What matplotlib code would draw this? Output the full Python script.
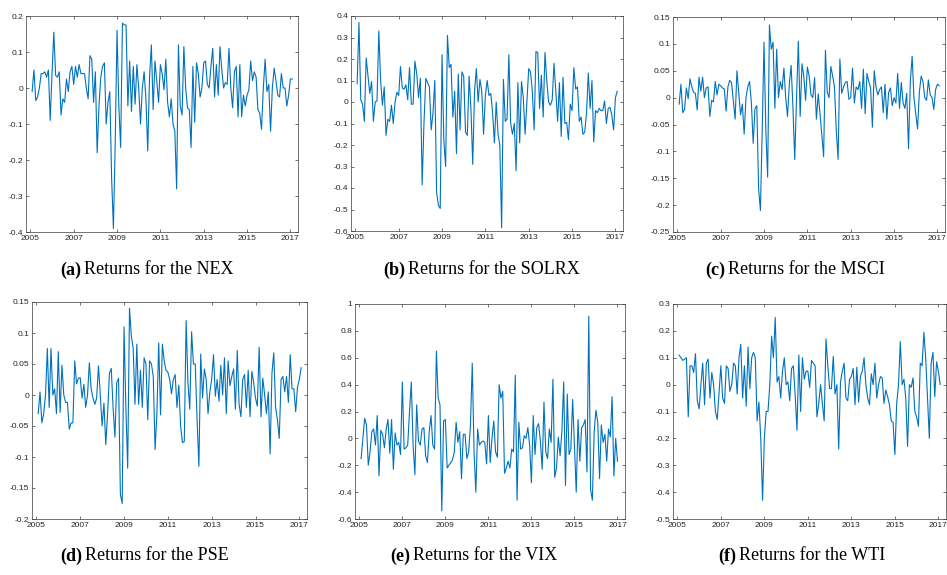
import matplotlib
matplotlib.use("Agg")
import matplotlib.pyplot as plt
import numpy as np
import pandas as pd
from matplotlib.ticker import FuncFormatter, MultipleLocator

plt.rcParams["axes.unicode_minus"] = False

# Monthly returns, Feb 2005 - Feb 2017 (one row per calendar year)
nex = [
    -0.01, 0.05, -0.035, -0.025, 0.0, 0.04, 0.04, 0.045, 0.03, 0.05, -0.09,
    0.04, 0.155, 0.035, 0.03, 0.045, -0.075, -0.03, -0.04, 0.025, -0.01, 0.045, 0.06,
    0.01, 0.06, 0.03, 0.065, 0.04, 0.04, 0.04, 0.0, -0.03, 0.09, 0.08, -0.04,
    0.045, -0.18, -0.05, 0.03, 0.06, 0.07, -0.1, -0.04, -0.01, -0.25, -0.39, -0.15,
    0.16, -0.05, -0.165, 0.18, 0.175, 0.175, -0.05, 0.075, -0.065, 0.06, -0.045, 0.065,
    0.0, -0.1, 0.0, 0.045, -0.03, -0.175, 0.03, 0.12, -0.06, 0.075, 0.02, -0.04,
    0.065, 0.04, -0.005, 0.08, -0.04, -0.08, -0.03, -0.1, -0.12, -0.28, 0.12, -0.05,
    -0.075, 0.115, 0.0, -0.055, -0.06, -0.165, 0.06, -0.095, 0.07, 0.04, -0.025, 0.0,
    0.07, 0.075, 0.01, 0.0, 0.06, 0.11, -0.025, 0.065, -0.02, 0.115, 0.05, 0.0,
    0.015, 0.01, 0.11, 0.0, -0.055, 0.045, 0.06, -0.08, 0.065, -0.08, -0.02, -0.05,
    -0.02, -0.005, 0.075, 0.02, 0.045, 0.03, -0.06, -0.07, -0.115, 0.0, 0.08, -0.01,
    0.01, -0.12, 0.0, 0.055, 0.02, -0.02, -0.025, 0.04, 0.0, 0.0, -0.05, -0.02,
    0.025, 0.025,
]

solrx = [
    0.085, 0.37, 0.01, -0.01, -0.09, 0.205, 0.12, 0.04, 0.095, -0.09, 0.0,
    0.005, 0.33, 0.1, -0.015, 0.07, -0.155, -0.08, -0.09, -0.015, -0.1, 0.0, 0.045,
    0.03, 0.165, 0.065, 0.06, 0.08, 0.01, 0.16, -0.01, -0.01, 0.19, 0.13, 0.02,
    0.11, -0.385, -0.1, 0.11, 0.09, 0.07, -0.13, -0.05, 0.1, -0.42, -0.48, -0.495,
    0.22, -0.18, -0.3, 0.31, 0.16, 0.175, -0.07, 0.05, -0.24, 0.13, -0.13, 0.14,
    0.12, -0.14, -0.155, 0.12, -0.03, -0.29, 0.05, 0.155, 0.0, 0.105, 0.05, -0.15,
    0.03, 0.1, 0.03, 0.04, -0.05, -0.19, 0.0, -0.15, -0.2, -0.585, 0.105, -0.09,
    -0.08, 0.22, -0.1, -0.15, -0.1, -0.32, 0.09, -0.19, 0.095, 0.02, -0.15, 0.0,
    0.155, 0.14, 0.05, -0.13, 0.235, 0.23, -0.03, 0.125, -0.07, 0.23, 0.1, 0.0,
    -0.015, 0.01, 0.18, 0.05, -0.09, 0.09, -0.16, 0.115, -0.1, -0.095, -0.175, -0.01,
    -0.04, 0.16, 0.06, 0.07, -0.09, -0.07, -0.15, -0.14, -0.05, 0.135, -0.03, 0.1,
    -0.185, -0.04, -0.05, -0.03, -0.04, -0.04, 0.005, -0.1, -0.03, -0.025, -0.06, -0.13,
    0.02, 0.05,
]

msci = [
    -0.012, 0.025, -0.028, -0.022, 0.018, -0.002, 0.035, 0.02, 0.01, 0.008, -0.023,
    0.038, 0.012, 0.038, 0.0, 0.018, 0.02, -0.035, -0.005, -0.008, 0.03, 0.005, 0.025,
    0.022, 0.018, 0.016, -0.025, 0.02, 0.032, 0.028, -0.005, -0.04, 0.05, 0.01, -0.032,
    -0.012, -0.068, 0.0, 0.02, 0.03, -0.01, -0.085, -0.02, -0.015, -0.17, -0.21, -0.06,
    0.103, -0.06, -0.148, 0.135, 0.09, 0.103, -0.02, 0.09, 0.0, 0.03, 0.015, 0.055,
    0.0, -0.035, 0.025, 0.06, -0.018, -0.115, 0.0, 0.105, -0.035, 0.063, 0.04, -0.005,
    0.057, 0.04, 0.005, 0.0, 0.037, -0.04, 0.007, -0.03, -0.07, -0.11, 0.088, 0.01,
    0.0, 0.058, 0.04, 0.02, -0.06, -0.115, 0.072, 0.008, 0.02, 0.028, 0.03, -0.003,
    0.0, 0.055, -0.01, 0.02, 0.015, 0.03, -0.02, 0.053, -0.03, 0.045, 0.03, 0.018,
    -0.055, 0.05, 0.02, 0.005, 0.015, 0.02, -0.028, 0.025, -0.04, 0.01, 0.018, -0.015,
    0.0, -0.01, 0.045, -0.02, 0.028, -0.01, -0.02, 0.008, -0.095, 0.03, 0.077, 0.0,
    -0.03, -0.058, 0.01, 0.04, 0.03, 0.0, -0.005, 0.033, 0.005, 0.0, -0.022, 0.015,
    0.025, 0.022,
]

pse = [
    -0.03, 0.005, -0.045, -0.03, 0.0, 0.075, -0.02, 0.075, 0.0, 0.01, -0.03,
    0.07, -0.028, 0.048, 0.0, -0.012, -0.012, -0.055, -0.045, -0.045, 0.055, 0.018, 0.027,
    0.028, -0.005, 0.017, -0.02, 0.0, 0.052, 0.01, -0.005, -0.015, -0.005, 0.047, 0.0,
    -0.05, -0.013, -0.08, -0.03, 0.035, 0.043, -0.02, -0.068, 0.02, 0.027, -0.16, -0.175,
    0.11, -0.02, -0.118, 0.14, 0.095, 0.075, -0.015, 0.082, -0.015, 0.04, -0.02, 0.06,
    0.05, -0.04, 0.055, 0.05, 0.03, -0.088, -0.03, 0.084, -0.032, 0.082, 0.055, 0.04,
    0.037, 0.025, 0.002, 0.025, 0.033, -0.02, 0.016, -0.05, -0.077, -0.075, 0.12, 0.02,
    -0.023, 0.102, 0.05, 0.05, -0.04, -0.115, 0.066, -0.005, 0.042, 0.025, -0.03, 0.005,
    0.025, 0.065, -0.002, 0.025, -0.01, 0.048, 0.0, 0.06, -0.03, 0.055, 0.015, 0.03,
    0.042, -0.023, 0.072, -0.015, -0.035, 0.025, 0.033, -0.02, 0.04, -0.035, 0.038, 0.02,
    -0.005, -0.018, 0.077, -0.035, 0.027, 0.0, -0.03, 0.005, -0.095, 0.035, 0.068, -0.02,
    -0.04, -0.07, 0.025, 0.03, 0.005, 0.03, -0.012, 0.065, 0.01, 0.01, -0.027, 0.013,
    0.025, 0.044,
]

vix = [
    -0.15, 0.0, 0.15, 0.1, -0.2, -0.1, 0.05, 0.07, -0.05, 0.17, -0.28,
    0.06, 0.03, -0.07, 0.07, 0.14, -0.11, 0.14, -0.23, 0.04, -0.05, -0.03, -0.12,
    0.42, -0.08, -0.07, -0.05, 0.2, 0.42, -0.05, -0.27, 0.25, -0.02, -0.05, 0.07,
    0.08, -0.13, -0.18, 0.05, 0.17, -0.05, -0.08, 0.65, 0.3, 0.25, -0.54, 0.13,
    0.14, -0.22, -0.2, -0.18, -0.16, -0.1, 0.12, -0.03, 0.05, -0.3, 0.03, 0.03,
    -0.15, -0.1, 0.1, 0.56, -0.1, -0.4, 0.07, -0.05, -0.03, -0.02, -0.03, -0.19,
    0.17, -0.18, 0.0, 0.13, -0.1, -0.14, 0.4, 0.3, 0.35, -0.26, -0.22, -0.17,
    -0.22, -0.08, -0.1, 0.47, -0.46, 0.12, -0.08, -0.07, 0.02, 0.0, 0.08, -0.05,
    -0.33, 0.17, -0.12, 0.08, 0.11, -0.02, -0.23, 0.27, -0.1, -0.15, 0.07, -0.03,
    0.44, -0.29, -0.22, 0.01, -0.13, 0.05, 0.42, -0.35, 0.33, -0.12, -0.08, 0.29,
    -0.05, -0.4, 0.14, -0.17, 0.08, 0.1, 0.14, -0.25, 0.91, -0.38, -0.46, 0.05,
    0.21, 0.12, -0.3, 0.1, -0.03, 0.03, -0.17, 0.07, 0.01, 0.31, -0.28, 0.0,
    -0.17,
]

wti = [
    0.11, 0.1, 0.09, 0.095, 0.1, -0.12, 0.07, 0.07, 0.045, 0.115, -0.06,
    -0.09, 0.0, 0.08, -0.075, 0.08, 0.095, -0.05, 0.045, 0.0, -0.1, -0.13, -0.03,
    0.07, -0.05, -0.07, 0.07, 0.06, -0.025, 0.0, 0.08, 0.07, -0.035, 0.1, 0.15,
    -0.05, 0.07, -0.08, 0.14, -0.015, 0.1, 0.12, 0.1, -0.135, -0.065, -0.2, -0.43,
    -0.2, -0.1, -0.1, 0.0, 0.18, 0.1, 0.25, 0.01, 0.03, -0.05, 0.05, 0.1,
    0.0, 0.01, -0.06, 0.06, 0.07, -0.04, -0.17, 0.11, -0.1, 0.1, 0.02, 0.05,
    0.05, -0.01, 0.09, 0.08, 0.07, -0.12, -0.07, 0.0, -0.07, -0.135, 0.17, 0.07,
    -0.015, -0.015, 0.105, -0.035, 0.0, -0.24, 0.01, 0.05, 0.08, -0.05, -0.06, 0.02,
    0.03, 0.06, -0.075, 0.065, -0.065, 0.03, 0.05, 0.1, 0.0, -0.05, -0.075, 0.04,
    0.0, 0.08, -0.05, 0.0, 0.03, 0.025, -0.07, -0.02, -0.045, -0.075, -0.135, -0.14,
    -0.26, -0.07, 0.0, 0.16, 0.0, 0.02, -0.05, -0.23, 0.0, -0.01, 0.025, -0.1,
    -0.12, -0.155, 0.08, 0.07, 0.195, 0.1, -0.05, -0.2, 0.08, 0.12, -0.045, 0.085,
    0.05, 0.0,
]

letters = ["a", "b", "c", "d", "e", "f"]
names = ["NEX", "SOLRX", "MSCI", "PSE", "VIX", "WTI"]
series = [nex, solrx, msci, pse, vix, wti]
ylims = [(-0.4, 0.2), (-0.6, 0.4), (-0.25, 0.15), (-0.2, 0.15), (-0.6, 1.0), (-0.5, 0.3)]
ysteps = [0.1, 0.1, 0.05, 0.05, 0.2, 0.1]
year_ticks = [2005, 2007, 2009, 2011, 2013, 2015, 2017]

W, H = 947, 575
# axes boxes in pixels: left, top, right, bottom
boxes = [
    (26, 16, 298, 232), (351, 16, 623, 231), (673, 17, 945, 232),
    (32, 302, 307, 519), (355, 304, 625, 519), (673, 304, 946, 519),
]
captions_xy = [(60, 270), (383, 270), (705, 270), (60, 556), (390, 556), (718, 556)]

LINE = "#0072BD"
EDGE = "#3a3a3a"

fig = plt.figure(figsize=(W / 100, H / 100), dpi=100)


def fmt(v, pos):
    v = round(v, 6)
    if v == 0:
        return "0"
    return f"{v:g}"


for i, vals in enumerate(series):
    l, t, r, b = boxes[i]
    ax = fig.add_axes([l / W, 1 - b / H, (r - l) / W, (b - t) / H])
    dates = pd.date_range("2005-02-01", periods=len(vals), freq="MS")
    x = dates.year + (dates.month - 1) / 12
    ax.plot(x, vals, color=LINE, linewidth=0.8)
    ax.set_xlim(2004.8, 2017.35)
    ax.set_ylim(*ylims[i])
    ax.set_xticks(year_ticks)
    ax.set_xticklabels([str(y) for y in year_ticks])
    ax.yaxis.set_major_locator(MultipleLocator(ysteps[i]))
    ax.yaxis.set_major_formatter(FuncFormatter(fmt))
    ax.tick_params(direction="in", top=True, right=True, length=2.5, width=0.5,
                   color=EDGE, labelcolor="#262626", labelsize=6, pad=2)
    for lab in ax.get_xticklabels() + ax.get_yticklabels():
        lab.set_fontfamily("Liberation Sans")
    for sp in ax.spines.values():
        sp.set_color(EDGE)
        sp.set_linewidth(0.5)

# sub-figure captions: bold letter, regular description
renderer = fig.canvas.get_renderer()
for i, (cx, cy) in enumerate(captions_xy):
    tag = fig.text(cx / W, 1 - cy / H, f"({letters[i]})", fontsize=13,
                   fontweight="bold", family="Liberation Serif", va="center", ha="left")
    bb = tag.get_window_extent(renderer)
    fig.text((bb.x1 + 3) / W, 1 - cy / H, f"Returns for the {names[i]}", fontsize=13,
             family="Liberation Serif", va="center", ha="left")

fig.savefig("out.png", dpi=100)
